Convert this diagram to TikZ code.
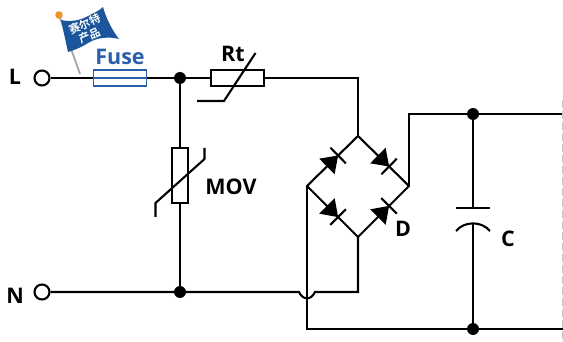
\documentclass[tikz,border=0pt]{standalone}
\usepackage{fontspec}
\setmainfont{Open Sans}
\newfontfamily\cjkfont[BoldFont={Noto Sans CJK SC Bold}]{Noto Sans CJK SC}
\usetikzlibrary{calc}
\definecolor{fuseblue}{RGB}{42,96,168}
\definecolor{flagblue}{RGB}{27,86,156}
\definecolor{pinorange}{RGB}{240,150,40}
\tikzset{
  wire/.style={line width=2.1pt},
  dot/.style={circle,fill=black,inner sep=0,minimum size=12pt},
  terminal/.style={circle,draw,line width=2.1pt,fill=white,inner sep=0,minimum size=15pt},
  part/.style={draw,line width=2.1pt,inner sep=0},
  lbl/.style={font=\bfseries\fontsize{21.5}{22}\selectfont}
}
\begin{document}
\begin{tikzpicture}[x=1pt,y=-1pt]
      \useasboundingbox (0,0) rectangle (563,342);
      % supply side
      \node[terminal] (L) at (42,78) {};
      \node[terminal] (N) at (42,292) {};
      \node[lbl] at (15,77) {L};
      \node[lbl] at (15,296) {N};
      \node[draw=fuseblue,line width=1.8pt,inner sep=0,minimum width=53pt,minimum height=16pt] (fuse) at (120,78) {};
      \node[part,minimum width=53pt,minimum height=16pt] (rt) at (237.5,78) {};
      \node[part,minimum width=16pt,minimum height=55pt] (mov) at (180,175.5) {};
      \node[dot] (top) at (180,78) {};
      \node[dot] (bot) at (180,292) {};
      \draw[wire] (L) -- (fuse.west);
      \draw[fuseblue,line width=1.8pt] (fuse.west) -- (fuse.east);
      \draw[wire] (fuse.east) -- (top) -- (rt.west);
      \draw[wire] (top) -- (mov.north);
      \draw[wire] (mov.south) -- (bot);
      \draw[wire] (197,101) -- (224,101) -- (255.5,53);
      \draw[wire] (155.5,217) -- (155.5,203) -- (204.5,159) -- (204.5,148);
      \node[lbl] at (233,54) {Rt};
      \node[lbl] at (231,187) {MOV};
      \node[lbl,text=fuseblue] at (120,57) {Fuse};
      % bridge
      \coordinate (br) at (358,136);
      \coordinate (bl) at (307,186);
      \coordinate (bd) at (358,237);
      \coordinate (bu) at (409,186);
      \coordinate (hopa) at (299,292);
      \coordinate (hopb) at (315,292);
      \coordinate (corner) at (358,292);
      \draw[wire] (rt.east) -| (br);
      \draw[wire,line join=round] (br) -- (bu) -- (bd) -- (bl) -- (br);
      \draw[wire] (N) -- (hopa) to[out=-65,in=-115,looseness=1.5] (hopb) -- (corner) -- (bd);
      \foreach \a/\b in {bl/br,br/bu,bl/bd,bd/bu}
        {
        \fill ($(\a)!.61!(\b)$) -- ($(\a)!.39!(\b)!11pt!90:(\b)$) -- ($(\a)!.39!(\b)!11pt!-90:(\b)$) -- cycle;
        \draw[wire] ($(\a)!.61!(\b)!11pt!90:(\b)$) -- ($(\a)!.61!(\b)!11pt!-90:(\b)$);
        }
      \node[lbl] at (403,229) {D};
      % capacitor and outputs
      \node[dot] (cu) at (473,114) {};
      \node[dot] (cd) at (473,329) {};
      \coordinate (pa) at (473,208);
      \coordinate (pb) at (473,224);
      \coordinate (outu) at (563,114);
      \coordinate (outd) at (563,329);
      \draw[wire] (bu) |- (cu) -- (outu);
      \draw[wire] (bl) |- (cd) -- (outd);
      \draw[wire] (cu) -- (pa);
      \draw[wire] (456,208) -- (490,208);
      \draw[wire] (456,231) to[out=50,in=130] (490,231);
      \draw[wire] (pb) -- (cd);
      \node[lbl] at (508,239) {C};
      \draw[gray!45,line width=1pt,dash pattern=on 8pt off 3pt] (562,100) -- (562,342);
      % flag
      \draw[gray!70,line width=1.8pt] (59,15) -- (80,74);
      \fill[flagblue] (61,20) .. controls (70,22) and (80,21) .. (90,15) .. controls (96,12) and (100,10) .. (103,7)
        .. controls (106,18) and (112,30) .. (119,39) .. controls (108,36) and (96,38) .. (88,43)
        .. controls (82,47) and (75,50) .. (68,52) -- cycle;
      \fill[pinorange] (59,15) circle (3.8);
      \node[text=white,font=\cjkfont\bfseries\fontsize{11}{12.5}\selectfont,align=center,rotate=23] at (87,30) {赛尔特\\产品};
\end{tikzpicture}
\end{document}
